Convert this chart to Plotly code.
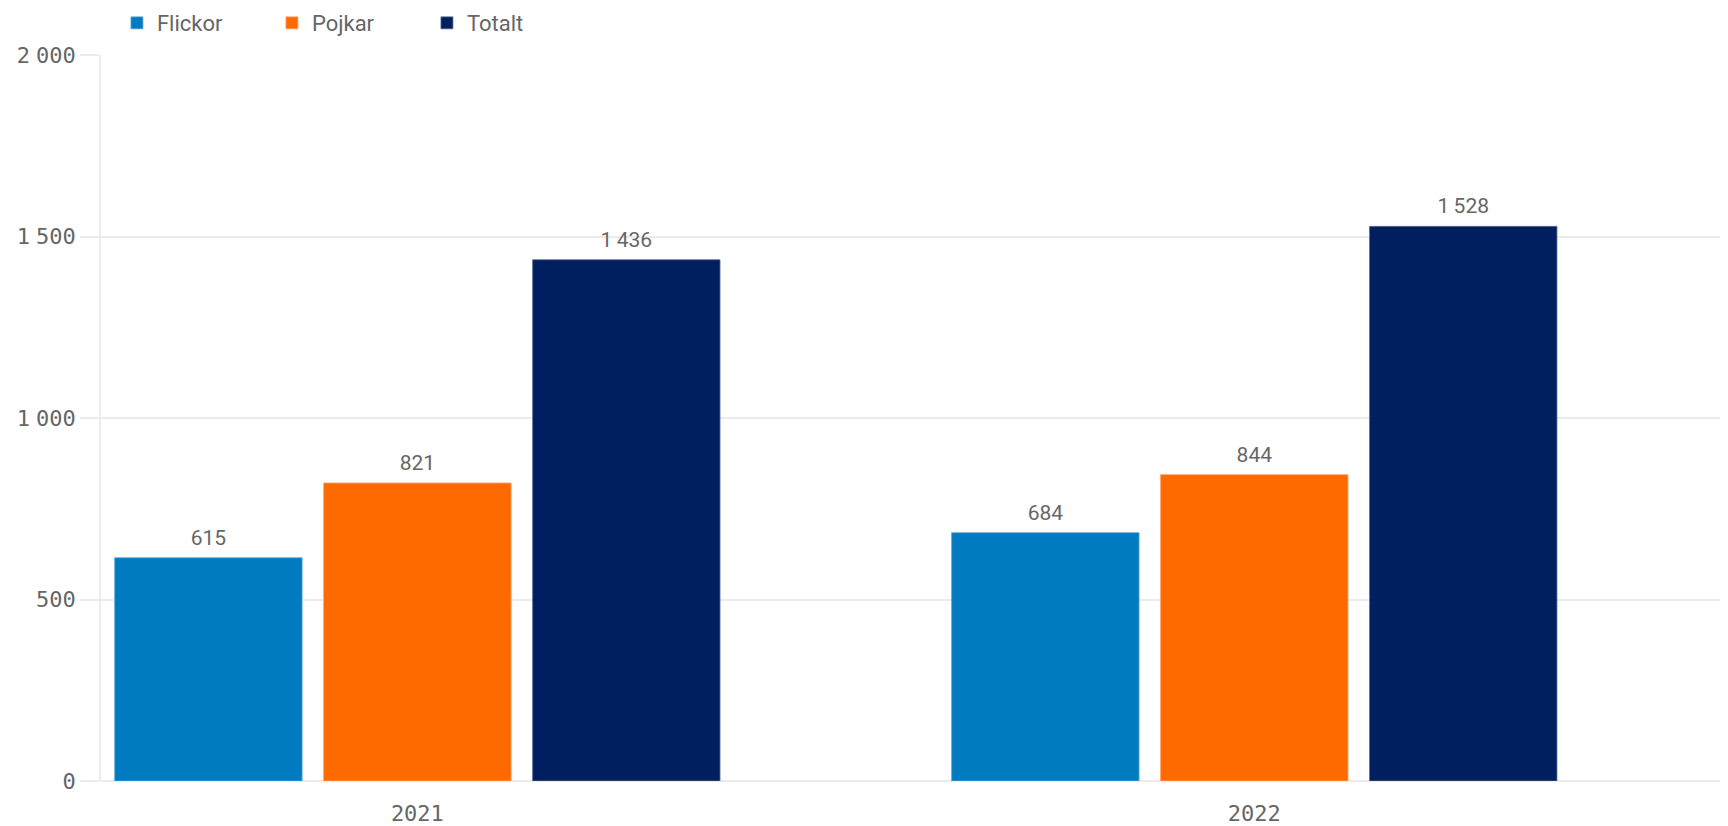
import plotly.graph_objects as go

years = ["2021", "2022"]
series_names = ["Flickor", "Pojkar", "Totalt"]
flickor = [615, 684]
pojkar = [821, 844]
totalt = [1436, 1528]
y_ticks = [0, 500, 1000, 1500, 2000]

colors = ["#007BC0", "#FF6A00", "#001F5E"]
edge_colors = ["#5aa8d8", "#ffa266", "#5a6f9a"]
series_values = [flickor, pojkar, totalt]

grid = "#ebebeb"
txt = "#666666"
gap = 0.251

# tick labels with a narrow thousands gap
y_ticktext = [f"{v:,}".replace(",", "<span style='font-size:10px'> </span>") for v in y_ticks]

fig = go.Figure()
for name, vals, col, ecol in zip(series_names, series_values, colors, edge_colors):
    fig.add_trace(go.Bar(
        name=name, x=years, y=vals, offsetgroup=name,
        marker=dict(color=col, line=dict(color=ecol, width=0.8)),
        hoverinfo="x+y+name",
    ))
# value labels (placed above bars, same grouping)
for name, vals in zip(series_names, series_values):
    fig.add_trace(go.Scatter(
        x=years, y=vals, mode="markers+text", offsetgroup=name,
        marker=dict(size=11, color="rgba(0,0,0,0)"),
        text=vals, texttemplate="%{y:,d}", textposition="top center",
        textfont=dict(family="Roboto", size=21, color=txt),
        showlegend=False, hoverinfo="skip", cliponaxis=False,
    ))

fig.update_layout(
    width=1720, height=818,
    margin=dict(l=93, r=0, t=47, b=45, autoexpand=False),
    paper_bgcolor="white", plot_bgcolor="white",
    separators=",\u2009",
    barmode="group", bargap=gap, bargroupgap=0.103,
    scattermode="group", scattergap=gap,
    showlegend=True,
    legend=dict(orientation="h", x=0.0098, xanchor="left", y=1.044, yanchor="middle",
                font=dict(family="Roboto", size=22, color=txt),
                entrywidth=110, entrywidthmode="pixels",
                traceorder="normal"),
    xaxis=dict(type="category", range=[-0.378, 1.566], showgrid=False,
               showline=False, ticks="", zeroline=False, automargin=False,
               ticklabelstandoff=17,
               tickfont=dict(family="DejaVu Sans Mono", size=22, color=txt)),
    yaxis=dict(range=[0, 2000], tickvals=y_ticks, ticktext=y_ticktext,
               showgrid=True, gridcolor=grid, gridwidth=1.5,
               zeroline=True, zerolinecolor=grid, zerolinewidth=1.5,
               showline=True, linecolor=grid, linewidth=1.5,
               ticks="outside", ticklen=19, tickcolor=grid, tickwidth=1.5,
               ticklabelstandoff=0, automargin=False,
               tickfont=dict(family="DejaVu Sans Mono", size=22, color=txt)),
)

fig.write_html("out.html")
